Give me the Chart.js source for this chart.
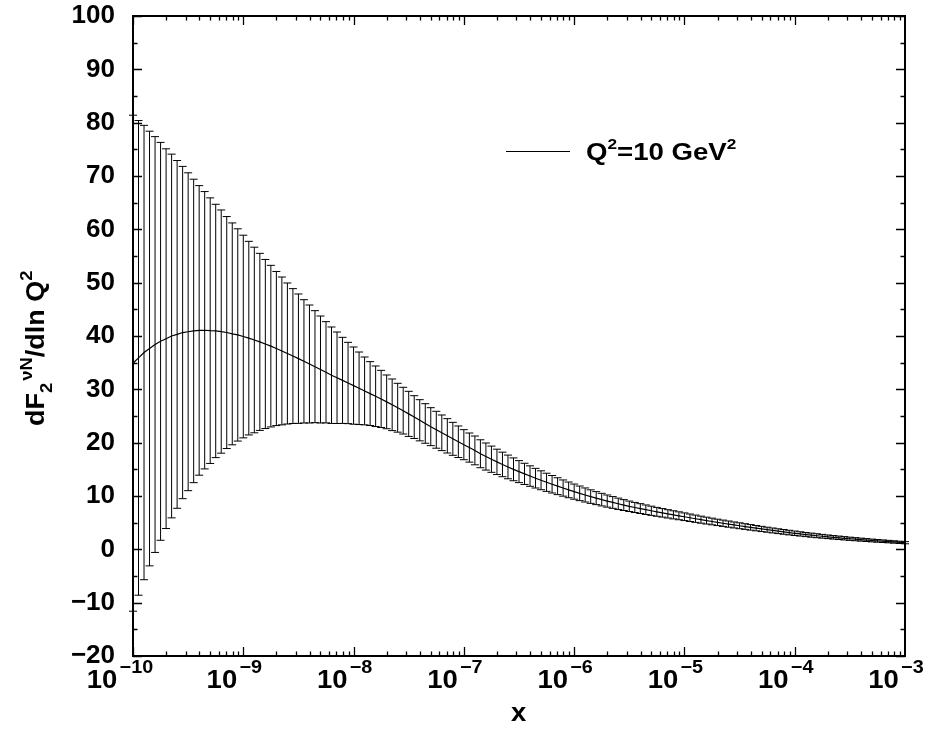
<!DOCTYPE html>
<html>
<head>
<meta charset="utf-8">
<script src="https://cdn.jsdelivr.net/npm/chart.js@4.4.1/dist/chart.umd.min.js"></script>
<style>
  html, body { margin: 0; padding: 0; background: #fff; }
  #wrap { width: 926px; height: 736px; }
</style>
</head>
<body>
<div id="wrap"><canvas id="chart" width="926" height="736"></canvas></div>
<script>
// x grid: 20 points per decade from 1e-10 to 1e-3
const xStartExp = -10
const xStepExp = 0.05
const nPoints = 141

// central value of dF2/dlnQ2 at each x point
const central = [
  34.9, 35.9, 36.9, 37.65, 38.4, 39.0, 39.5, 40.0, 40.3, 40.65,
  40.8, 40.95, 41.05, 41.08, 41.0, 40.95, 40.83, 40.65, 40.4, 40.2,
  39.9, 39.6, 39.25, 38.9, 38.5, 38.1, 37.65, 37.2, 36.72, 36.24,
  35.75, 35.25, 34.75, 34.25, 33.72, 33.2, 32.65, 32.17, 31.68, 31.19,
  30.7, 30.2, 29.7, 29.2, 28.7, 28.2, 27.65, 27.1, 26.55, 26.0,
  25.4, 24.8, 24.2, 23.6, 23.0, 22.42, 21.85, 21.28, 20.72, 20.17,
  19.62, 19.08, 18.55, 17.92, 17.4, 16.9, 16.4, 15.92, 15.45, 15.0,
  14.57, 14.15, 13.74, 13.34, 12.95, 12.57, 12.2, 11.84, 11.49, 11.15,
  10.82, 10.5, 10.19, 9.89, 9.6, 9.32, 9.05, 8.79, 8.54, 8.3,
  8.07, 7.85, 7.64, 7.43, 7.23, 7.03, 6.84, 6.65, 6.47, 6.29,
  6.11, 5.92, 5.74, 5.56, 5.39, 5.22, 5.05, 4.89, 4.73, 4.57,
  4.42, 4.27, 4.12, 3.97, 3.82, 3.68, 3.54, 3.4, 3.27, 3.14,
  3.01, 2.89, 2.77, 2.66, 2.55, 2.45, 2.35, 2.25, 2.16, 2.07,
  1.98, 1.9, 1.82, 1.74, 1.66, 1.59, 1.52, 1.45, 1.38, 1.31,
  1.24
]

// symmetric error (half length of each bar)
const errors = [
  46.5, 44.5, 42.6, 40.75, 38.98, 37.3, 35.6, 34.1, 32.6, 31.15,
  29.8, 28.45, 27.15, 26.0, 24.9, 23.75, 22.8, 21.75, 20.8, 19.9,
  19.0, 18.15, 17.4, 16.6, 15.85, 15.15, 14.45, 13.86, 13.22, 12.64,
  12.13, 11.56, 11.06, 10.5, 10.03, 9.49, 9.04, 8.58, 8.07, 7.62,
  7.24, 6.8, 6.36, 5.99, 5.68, 5.36, 5.04, 4.84, 4.58, 4.38,
  4.23, 4.01, 3.86, 3.71, 3.56, 3.46, 3.34, 3.22, 3.09, 2.96,
  2.82, 2.73, 2.7, 2.62, 2.54, 2.46, 2.38, 2.3, 2.22, 2.14,
  2.06, 1.99, 1.92, 1.84, 1.77, 1.7, 1.64, 1.58, 1.52, 1.47,
  1.42, 1.37, 1.32, 1.27, 1.22, 1.18, 1.14, 1.1, 1.06, 1.02,
  0.98, 0.95, 0.92, 0.89, 0.86, 0.83, 0.8, 0.78, 0.76, 0.74,
  0.72, 0.7, 0.68, 0.66, 0.64, 0.62, 0.6, 0.59, 0.58, 0.56,
  0.55, 0.53, 0.52, 0.5, 0.49, 0.47, 0.46, 0.45, 0.44, 0.43,
  0.42, 0.4, 0.39, 0.38, 0.37, 0.35, 0.34, 0.33, 0.32, 0.31,
  0.3, 0.29, 0.28, 0.27, 0.26, 0.25, 0.24, 0.23, 0.22, 0.21,
  0.2
]

const yTicks = [-20, -10, 0, 10, 20, 30, 40, 50, 60, 70, 80, 90, 100]
const xDecades = [-10, -9, -8, -7, -6, -5, -4, -3]

const FONT = '"Liberation Sans", Arial, Helvetica, sans-serif'

const points = []
for (let i = 0; i < nPoints; i++) {
  points.push({ x: Math.pow(10, xStartExp + i * xStepExp), y: central[i], e: errors[i] })
}

// draw a run of text pieces, some raised or lowered, stretched a bit wide
function drawRich(ctx, parts, x, y, sx) {
  ctx.save()
  ctx.translate(x, y)
  ctx.scale(sx, 1)
  let cx = 0
  for (const p of parts) {
    ctx.font = 'bold ' + p.size + 'px ' + FONT
    ctx.fillText(p.t, cx, p.dy || 0)
    cx += ctx.measureText(p.t).width + (p.gap || 0)
  }
  ctx.restore()
}
function richWidth(ctx, parts, sx) {
  let w = 0
  for (const p of parts) {
    ctx.font = 'bold ' + p.size + 'px ' + FONT
    w += ctx.measureText(p.t).width + (p.gap || 0)
  }
  return w * sx
}

const errorBars = {
  id: 'errorBars',
  beforeDatasetsDraw(chart) {
    const { ctx, scales: { x, y } } = chart
    ctx.save()
    ctx.strokeStyle = '#000'
    ctx.lineWidth = 1
    ctx.beginPath()
    for (const p of points) {
      const px = x.getPixelForValue(p.x)
      const top = y.getPixelForValue(p.y + p.e)
      const bot = y.getPixelForValue(p.y - p.e)
      ctx.moveTo(px, top); ctx.lineTo(px, bot)
      ctx.moveTo(px - 4, top); ctx.lineTo(px + 4, top)
      ctx.moveTo(px - 4, bot); ctx.lineTo(px + 4, bot)
    }
    ctx.stroke()
    ctx.restore()
  }
}

const frame = {
  id: 'frame',
  afterDraw(chart) {
    const { ctx, chartArea: a, scales: { x, y } } = chart
    ctx.save()
    ctx.strokeStyle = '#000'
    ctx.fillStyle = '#000'
    ctx.lineWidth = 2
    ctx.strokeRect(a.left, a.top, a.right - a.left, a.bottom - a.top)

    // inward ticks on all four sides
    ctx.lineWidth = 1.3
    ctx.beginPath()
    for (let v = -20; v <= 100; v += 5) {
      const py = Math.round(y.getPixelForValue(v)) + 0.5
      const len = v % 10 === 0 ? 9 : 4.5
      ctx.moveTo(a.left, py); ctx.lineTo(a.left + len, py)
      ctx.moveTo(a.right, py); ctx.lineTo(a.right - len, py)
    }
    for (let d = -10; d < -3; d++) {
      for (let m = 1; m <= 9; m++) {
        const px = Math.round(x.getPixelForValue(m * Math.pow(10, d))) + 0.5
        const len = m === 1 ? 9 : 4.5
        ctx.moveTo(px, a.bottom); ctx.lineTo(px, a.bottom - len)
        ctx.moveTo(px, a.top); ctx.lineTo(px, a.top + len)
      }
    }
    ctx.stroke()

    // x tick labels 10^n
    ctx.textBaseline = 'alphabetic'
    ctx.textAlign = 'left'
    for (const d of xDecades) {
      const px = x.getPixelForValue(Math.pow(10, d))
      const parts = [
        { t: '10', size: 25, gap: 2 },
        { t: '\u2212' + Math.abs(d), size: 18, dy: -15 }
      ]
      const w = richWidth(ctx, parts, 1.1)
      const shift = d === -10 ? 13 : 9
      drawRich(ctx, parts, px - w / 2 - shift, a.bottom + 32, 1.1)
    }

    // axis titles
    drawRich(ctx, [{ t: 'x', size: 25 }], x.getPixelForValue(Math.pow(10, -6.5)) - 8, 721, 1.1)

    ctx.save()
    ctx.translate(44, 426)
    ctx.rotate(-Math.PI / 2)
    drawRich(ctx, [
      { t: 'dF', size: 25 },
      { t: '2', size: 17, dy: 8, gap: 2 },
      { t: '\u03BDN', size: 17, dy: -12 },
      { t: '/dln Q', size: 25 },
      { t: '2', size: 17, dy: -12 }
    ], 0, 0, 1.08)
    ctx.restore()

    // legend
    ctx.lineWidth = 1
    ctx.beginPath()
    ctx.moveTo(506, 151.5); ctx.lineTo(570, 151.5)
    ctx.stroke()
    drawRich(ctx, [
      { t: 'Q', size: 24 },
      { t: '2', size: 15, dy: -11 },
      { t: '=10 GeV', size: 24 },
      { t: '2', size: 15, dy: -11 }
    ], 586, 160, 1.15)
    ctx.restore()
  }
}

new Chart(document.getElementById('chart'), {
  type: 'line',
  data: {
    datasets: [{
      label: 'Q2=10 GeV2',
      data: points,
      borderColor: '#000',
      borderWidth: 1.2,
      pointRadius: 0,
      fill: false,
      tension: 0
    }]
  },
  options: {
    responsive: false,
    animation: false,
    events: [],
    layout: { padding: { top: 16, right: 21, left: 0, bottom: 0 } },
    plugins: { legend: { display: false }, tooltip: { enabled: false } },
    scales: {
      x: {
        type: 'logarithmic',
        min: 1e-10,
        max: 1e-3,
        grid: { display: false, drawTicks: false },
        border: { display: false },
        ticks: { display: false },
        afterFit(s) { s.height = 80; s.paddingLeft = 0; s.paddingRight = 0 }
      },
      y: {
        min: -20,
        max: 100,
        grid: { display: false, drawTicks: false },
        border: { display: false },
        ticks: {
          stepSize: 10,
          padding: 18,
          color: '#000',
          font: { family: FONT, size: 26, weight: 'bold' },
          callback: v => yTicks.includes(v) ? (v < 0 ? '\u2212' + Math.abs(v) : String(v)) : ''
        },
        afterFit(s) { s.width = 133; s.paddingTop = 0; s.paddingBottom = 0 }
      }
    }
  },
  plugins: [errorBars, frame]
})
</script>
</body>
</html>
